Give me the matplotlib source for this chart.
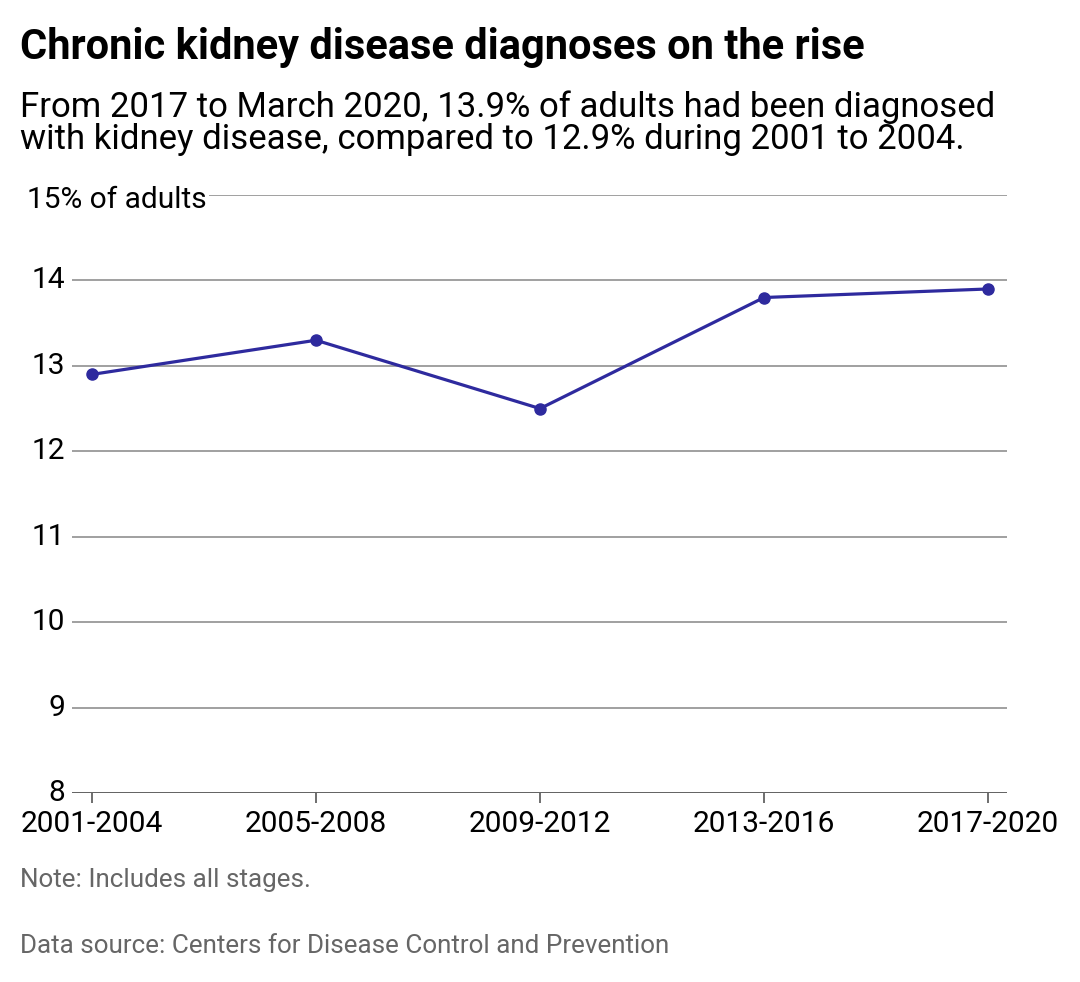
import matplotlib
matplotlib.use("Agg")
import matplotlib.pyplot as plt

plt.rcParams["font.family"] = ["Roboto", "DejaVu Sans"]

periods = ["2001-2004", "2005-2008", "2009-2012", "2013-2016", "2017-2020"]
pct_adults = [12.9, 13.3, 12.5, 13.8, 13.9]
y_ticks = [8, 9, 10, 11, 12, 13, 14, 15]
y_labels = ["8", "9", "10", "11", "12", "13", "14", "15% of adults"]

LINE = "#2e2a9e"

fig = plt.figure(figsize=(10.8, 9.82), dpi=100)
ax = fig.add_axes([72 / 1080, 1 - 793 / 982, 935 / 1080, 598 / 982])

x = list(range(len(periods)))
ax.plot(x, pct_adults, "-o", color=LINE, linewidth=2.3, markersize=8, zorder=3)

ax.set_xlim(-20 / 224, 4 + 19 / 224)
ax.set_ylim(8, 15)
for v in y_ticks[1:]:
    ax.axhline(v, color="#999999", linewidth=1.3, zorder=1)
ax.axhline(8, color="#555555", linewidth=1.3, zorder=1)

for s in ax.spines.values():
    s.set_visible(False)
ax.set_yticks([])
ax.set_xticks(x)
ax.set_xticklabels(periods, fontsize=21.5)
ax.tick_params(axis="x", length=7, width=1.2, color="#555555", pad=5)

for v, lab in zip(y_ticks, y_labels):
    if v == 15:
        fig.text(27 / 1080, 1 - 200 / 982, lab, fontsize=21.5, va="center", ha="left",
                 bbox=dict(facecolor="white", edgecolor="none", pad=2))
    else:
        ax.text(-0.12, v, lab, fontsize=21.5, va="center", ha="right")

fig.text(20 / 1080, 1 - 48 / 982, "Chronic kidney disease diagnoses on the rise",
         fontsize=30, fontweight="bold", va="center")
fig.text(20 / 1080, 1 - 123 / 982,
         "From 2017 to March 2020, 13.9% of adults had been diagnosed\n"
         "with kidney disease, compared to 12.9% during 2001 to 2004.",
         fontsize=25, va="center", linespacing=0.95)
fig.text(20 / 1080, 1 - 880 / 982, "Note: Includes all stages.",
         fontsize=18.7, color="#666666", va="center")
fig.text(20 / 1080, 1 - 946 / 982, "Data source: Centers for Disease Control and Prevention",
         fontsize=18.7, color="#666666", va="center")

fig.savefig("out.png", dpi=100, facecolor="white")
